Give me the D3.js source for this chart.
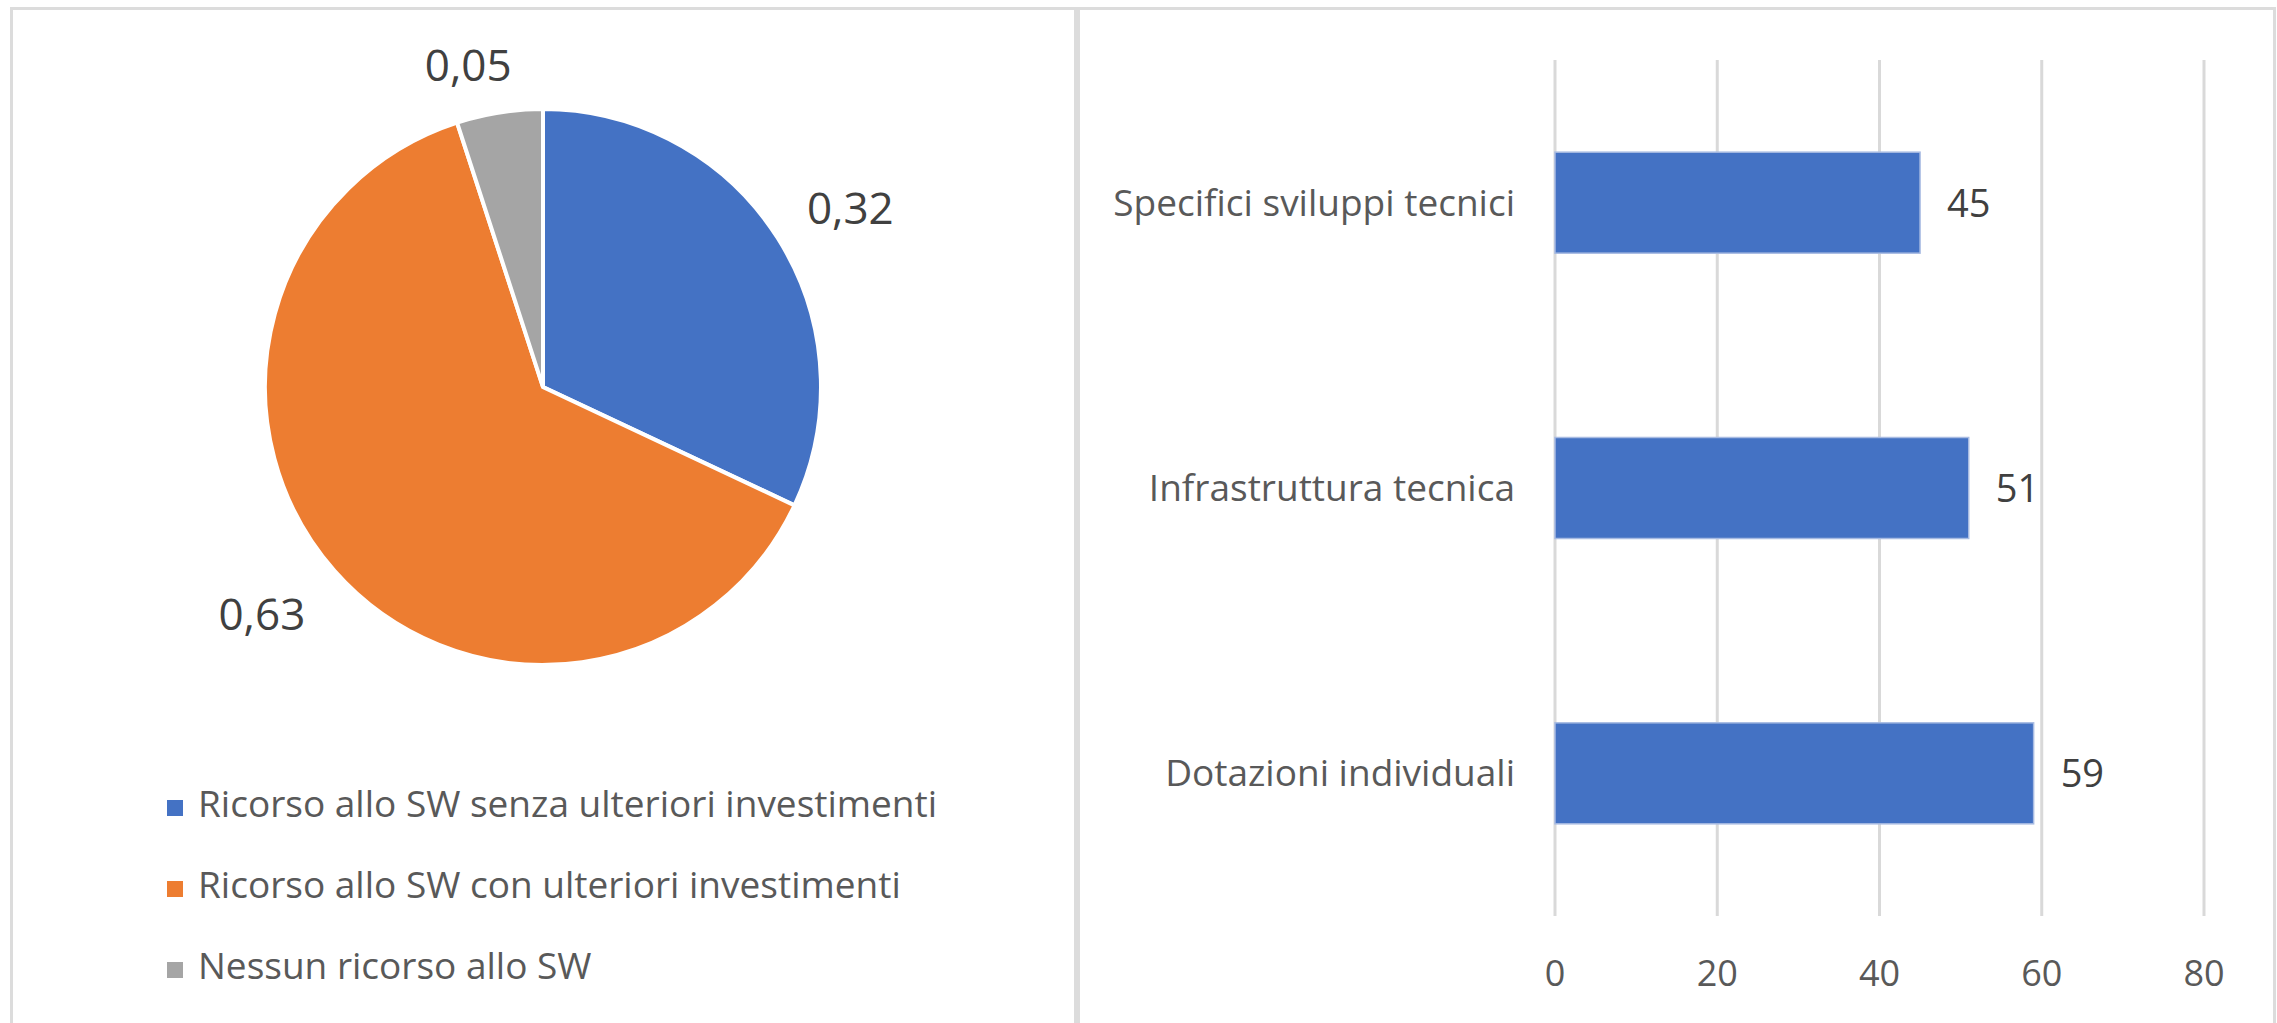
<!DOCTYPE html>
<html>
<head>
<meta charset="utf-8">
<script src="https://cdn.jsdelivr.net/npm/d3@7"></script>
<style>
  body { margin: 0; background: #fff; }
  svg { display: block; font-family: "Open Sans", sans-serif; }
</style>
</head>
<body>
<svg id="chart" width="2277" height="1023"></svg>
<script>
// pie data
const pieLabels = ["Ricorso allo SW senza ulteriori investimenti", "Ricorso allo SW con ulteriori investimenti", "Nessun ricorso allo SW"];
const pieValues = [0.32, 0.63, 0.05];
const pieColors = ["#4472C4", "#ED7D31", "#A5A5A5"];

// bar data
const barCategories = ["Specifici sviluppi tecnici", "Infrastruttura tecnica", "Dotazioni individuali"];
const barValues = [45, 51, 59];
const xTicks = [0, 20, 40, 60, 80];

const svg = d3.select("#chart");
const it = d3.formatLocale({ decimal: ",", thousands: ".", grouping: [3], currency: ["€", ""] });
const fmt = it.format(".2f");

// panel borders
svg.append("rect").attr("x", 11.5).attr("y", 8.5).attr("width", 1064).attr("height", 1030)
  .attr("fill", "none").attr("stroke", "#dcdcdc").attr("stroke-width", 3);
svg.append("rect").attr("x", 1078.5).attr("y", 8.5).attr("width", 1196).attr("height", 1030)
  .attr("fill", "none").attr("stroke", "#dcdcdc").attr("stroke-width", 3);

// ---- pie ----
const cx = 543, cy = 387, r = 278;
const pieG = svg.append("g").attr("transform", `translate(${cx},${cy})`);
const arcs = d3.pie().sort(null).value(d => d)(pieValues);
const arc = d3.arc().innerRadius(0).outerRadius(r);

pieG.selectAll("path")
  .data(arcs)
  .enter()
  .append("path")
  .attr("d", arc)
  .attr("fill", (d, i) => pieColors[i])
  .attr("stroke", "white")
  .attr("stroke-width", 4);

// labels placed outside, box edge a fixed gap from the circle
// (small nudges to mimic excel's best-fit placement)
const pfs = 44, hw = 43, hh = 25, gap = 28;
const nudge = [[7, 12], [-15, -7], [-22, 12]];
pieG.selectAll(".plabel")
  .data(arcs)
  .enter()
  .append("text")
  .attr("class", "plabel")
  .each(function (d, i) {
    const a = (d.startAngle + d.endAngle) / 2;
    const ext = Math.abs(hw * Math.sin(a)) + Math.abs(hh * Math.cos(a));
    const dist = r + gap + ext;
    d3.select(this)
      .attr("x", dist * Math.sin(a) + nudge[i][0])
      .attr("y", -dist * Math.cos(a) + pfs * 0.357 + nudge[i][1]);
  })
  .attr("text-anchor", "middle")
  .attr("font-size", pfs + "px")
  .attr("fill", "#404040")
  .text(d => fmt(d.data));

// legend
const legend = svg.append("g");
pieLabels.forEach((lab, i) => {
  const y = 804 + i * 81;
  legend.append("rect")
    .attr("x", 167).attr("y", y - 4).attr("width", 16).attr("height", 16)
    .attr("fill", pieColors[i]);
  legend.append("text")
    .attr("x", 198).attr("y", y + 13)
    .attr("font-size", "37px")
    .attr("fill", "#595959")
    .text(lab);
});

// ---- bars ----
const x = d3.scaleLinear().domain([0, 80]).range([1555, 2204]);
const y = d3.scaleBand().domain(barCategories).range([60, 916]).paddingInner(0.646).paddingOuter(0.323);

svg.append("g")
  .selectAll("line")
  .data(xTicks)
  .enter()
  .append("line")
  .attr("x1", d => x(d)).attr("x2", d => x(d))
  .attr("y1", 60).attr("y2", 916)
  .attr("stroke", "#d9d9d9")
  .attr("stroke-width", 3);

svg.append("g")
  .selectAll("text")
  .data(xTicks)
  .enter()
  .append("text")
  .attr("x", d => x(d))
  .attr("y", 986)
  .attr("text-anchor", "middle")
  .attr("font-size", "36px")
  .attr("fill", "#595959")
  .text(d => d);

svg.append("g")
  .selectAll("rect")
  .data(barValues)
  .enter()
  .append("rect")
  .attr("x", x(0))
  .attr("y", (d, i) => y(barCategories[i]))
  .attr("width", d => x(d) - x(0))
  .attr("height", y.bandwidth())
  .attr("fill", "#4472C4")
  .attr("stroke", "#a8bbe2")
  .attr("stroke-width", 1.5);

svg.append("g")
  .selectAll("text")
  .data(barCategories)
  .enter()
  .append("text")
  .attr("x", x(0) - 40)
  .attr("y", d => y(d) + y.bandwidth() / 2 + 13)
  .attr("text-anchor", "end")
  .attr("font-size", "37px")
  .attr("fill", "#595959")
  .text(d => d);

svg.append("g")
  .selectAll("text")
  .data(barValues)
  .enter()
  .append("text")
  .attr("x", d => x(d) + 27)
  .attr("y", (d, i) => y(barCategories[i]) + y.bandwidth() / 2 + 14)
  .attr("font-size", "38px")
  .attr("fill", "#404040")
  .text(d => d);
</script>
</body>
</html>
